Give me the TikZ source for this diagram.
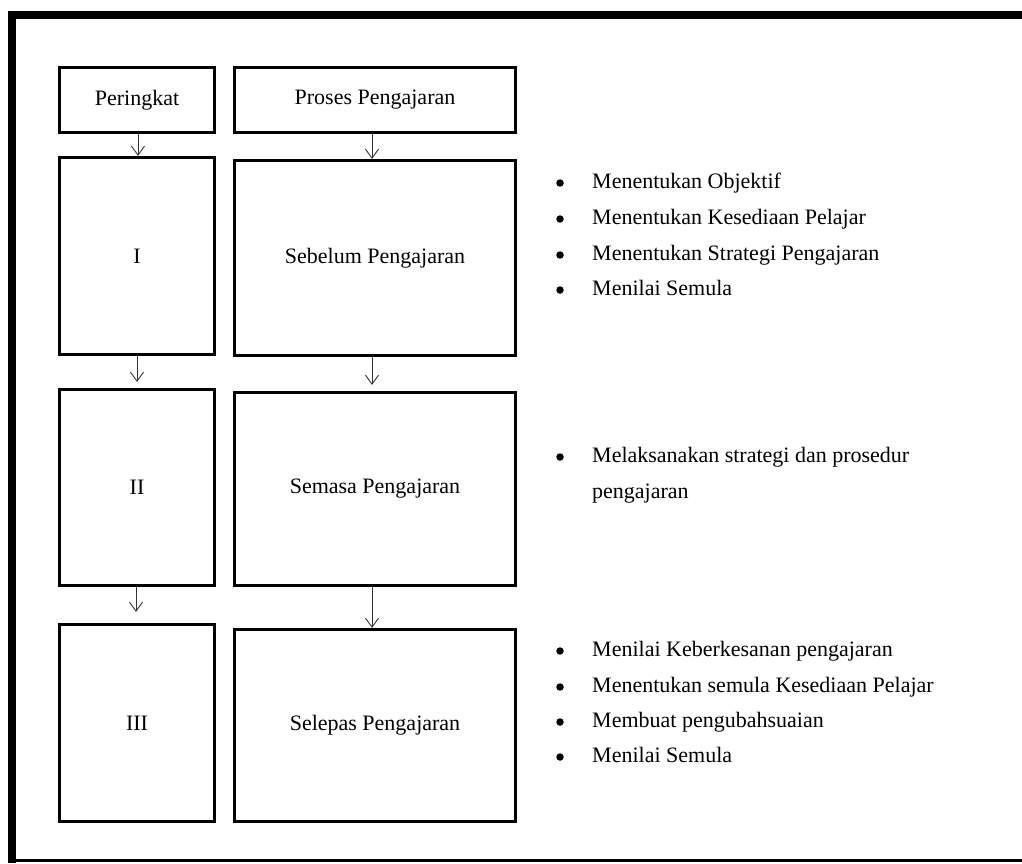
\documentclass[tikz,border=0pt]{standalone}
\usepackage{fontspec}
\setmainfont{Liberation Serif}
\usetikzlibrary{arrows.meta}
\begin{document}
\begin{tikzpicture}[x=1pt,y=-1pt,
  box/.style={draw, line width=3.2pt, inner sep=0pt, font=\fontsize{22}{26}\selectfont},
  flow/.style={draw=black!80, line width=0.9pt, -{Straight Barb[length=9pt,width=13pt,line width=0.9pt]}},
  item/.style={anchor=base west, inner sep=0pt, font=\fontsize{22}{26}\selectfont},
  dot/.style={circle, fill=black, inner sep=0pt, minimum size=7.5pt}]
\useasboundingbox (0,0) rectangle (1022,863);
% outer frame
\fill (8,11) rectangle (1022,19);
\fill (8,11) rectangle (16,863);
\fill (8,859) rectangle (1022,862);
% header boxes
\node[box, minimum width=155pt, minimum height=65pt] (h1) at (137,100) {Peringkat};
\node[box, minimum width=281pt, minimum height=65pt] (h2) at (375,100) {Proses Pengajaran};
% level boxes
\node[box, minimum width=155pt, minimum height=197pt] (l1) at (137,256) {I};
\node[box, minimum width=281pt, minimum height=195pt] (p1) at (375,258) {Sebelum Pengajaran};
\node[box, minimum width=155pt, minimum height=196pt] (l2) at (137,487.5) {II};
\node[box, minimum width=281pt, minimum height=193pt] (p2) at (375,489) {Semasa Pengajaran};
\node[box, minimum width=155pt, minimum height=197pt] (l3) at (137,723) {III};
\node[box, minimum width=281pt, minimum height=192pt] (p3) at (375,725.5) {Selepas Pengajaran};
% arrows
\draw[flow] ([xshift=1pt]h1.south) -- ([xshift=1pt]l1.north);
\draw[flow, shorten >=6pt] (l1.south) -- (l2.north);
\draw[flow, shorten >=11pt] ([xshift=-1pt]l2.south) -- ([xshift=-1pt]l3.north);
\draw[flow] ([xshift=-3pt]h2.south) -- ([xshift=-3pt]p1.north);
\draw[flow, shorten >=6pt] ([xshift=-3pt]p1.south) -- ([xshift=-3pt]p2.north);
\draw[flow] ([xshift=-3pt]p2.south) -- ([xshift=-3pt]p3.north);
% bullet list 1
\node[dot] (d1a) at (560,183) {};
\node[item] (t1a) at (592,188) {Menentukan Objektif};
\node[dot] (d1b) at (560,219) {};
\node[item] (t1b) at (592,224) {Menentukan Kesediaan Pelajar};
\node[dot] (d1c) at (560,255) {};
\node[item] (t1c) at (592,260) {Menentukan Strategi Pengajaran};
\node[dot] (d1d) at (560,290) {};
\node[item] (t1d) at (592,295) {Menilai Semula};
% bullet list 2
\node[dot] (d2a) at (560,457) {};
\node[item] (t2a) at (592,462) {Melaksanakan strategi dan prosedur};
\node[item] (t2b) at (592,498) {pengajaran};
% bullet list 3
\node[dot] (d3a) at (560,651) {};
\node[item] (t3a) at (592,656) {Menilai Keberkesanan pengajaran};
\node[dot] (d3b) at (560,687) {};
\node[item] (t3b) at (592,692) {Menentukan semula Kesediaan Pelajar};
\node[dot] (d3c) at (560,722) {};
\node[item] (t3c) at (592,727) {Membuat pengubahsuaian};
\node[dot] (d3d) at (560,757) {};
\node[item] (t3d) at (592,762) {Menilai Semula};
\end{tikzpicture}
\end{document}
